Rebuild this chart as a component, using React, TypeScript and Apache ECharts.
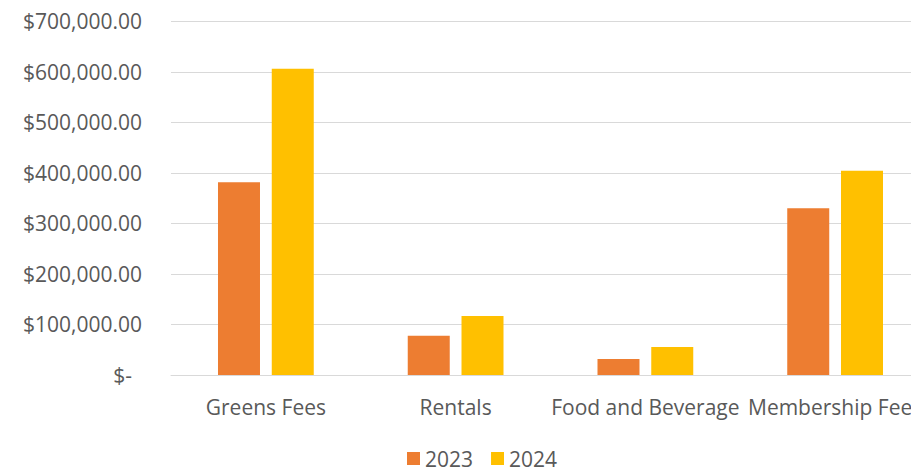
import React, { useEffect, useRef } from "react";
import * as echarts from "echarts";

const categories = ["Greens Fees", "Rentals", "Food and Beverage", "Membership Fees"];
const values2023 = [381600, 77800, 31700, 330000];
const values2024 = [605900, 116800, 55400, 404000];
const seriesNames = ["2023", "2024"];
const yTicks = [0, 100000, 200000, 300000, 400000, 500000, 600000, 700000];

const FONT = "'Open Sans', 'Noto Sans', sans-serif";
const TEXT = "#595959";
const FS = 21;

function fmt(v: number): string {
  if (v === 0) return "{z|$-}";
  return "$" + v.toLocaleString("en-US", { minimumFractionDigits: 2, maximumFractionDigits: 2 });
}

export default function App() {
  const ref = useRef<HTMLDivElement>(null);
  useEffect(() => {
    document.body.style.margin = "0";
    if (!ref.current) return;
    const chart = echarts.init(ref.current, undefined, { renderer: "svg" });
    chart.setOption({
      animation: false,
      textStyle: { fontFamily: FONT },
      grid: {
        left: 171,
        right: -19,
        top: 21.3,
        bottom: 94,
        containLabel: false,
        outerBoundsMode: "none",
      },
      legend: {
        data: seriesNames,
        left: 407,
        top: 448,
        padding: 0,
        itemWidth: 13,
        itemHeight: 13,
        itemGap: 18,
        icon: "rect",
        textStyle: { color: TEXT, fontSize: FS, fontFamily: FONT },
      },
      xAxis: {
        type: "category",
        data: categories,
        axisTick: { show: false },
        axisLine: { show: true, lineStyle: { color: "#d9d9d9", width: 1 } },
        axisLabel: { color: TEXT, fontSize: FS, fontFamily: FONT, margin: 21, interval: 0 },
      },
      yAxis: {
        type: "value",
        min: yTicks[0],
        max: yTicks[yTicks.length - 1],
        interval: yTicks[1] - yTicks[0],
        axisLine: { show: false },
        axisTick: { show: false },
        splitLine: { lineStyle: { color: "#d9d9d9", width: 1 } },
        axisLabel: {
          color: TEXT,
          fontSize: FS,
          fontFamily: FONT,
          margin: 29,
          formatter: (v: number) => fmt(v),
          rich: { z: { color: TEXT, fontSize: FS, fontFamily: FONT, padding: [0, 10, 0, 0] } },
        },
      },
      series: [
        {
          name: seriesNames[0],
          type: "bar",
          data: values2023,
          barWidth: 42,
          barGap: "28%",
          itemStyle: { color: "#ED7D31" },
        },
        {
          name: seriesNames[1],
          type: "bar",
          data: values2024,
          barWidth: 42,
          itemStyle: { color: "#FFC000" },
        },
      ],
    });
    return () => chart.dispose();
  }, []);
  return <div ref={ref} style={{ width: 911, height: 469 }} />;
}
